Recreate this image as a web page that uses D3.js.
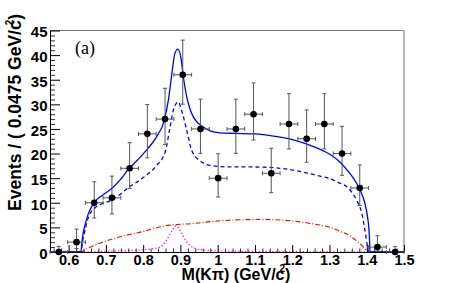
<!DOCTYPE html>
<html><head><meta charset="utf-8">
<script src="https://cdn.jsdelivr.net/npm/d3@7"></script>
<style>
html,body{margin:0;padding:0;background:#fff;}
svg{display:block;}
</style></head>
<body>
<svg id="c" width="454" height="283"></svg>
<script>
// ---- data ----
const binCenters = [0.57375,0.62125,0.66875,0.71625,0.76375,0.81125,0.85875,0.90625,0.95375,1.00125,
                    1.04875,1.09625,1.14375,1.19125,1.23875,1.28625,1.33375,1.38125,1.42875,1.47625];
const binHalfWidth = 0.02375;
const counts  = [0,2,10,11,17,24,27,36,25,15,25,28,16,26,23,26,20,13,1,0];
const errLow  = [0,1.29,3.10,3.26,4.08,4.86,5.16,5.97,4.96,3.83,4.96,5.26,3.95,5.06,4.76,5.06,4.43,3.55,0.83,0];
const errHigh = [1.15,2.64,4.26,4.41,5.20,5.96,6.26,7.05,6.06,4.95,6.06,6.35,5.08,6.16,5.86,6.16,5.54,4.69,2.30,1.15];

const totalFit = [[0.55,0],[0.633,0],[0.636,2.2],[0.639,3.8],[0.645,5.8],[0.653,7.8],[0.668,10],[0.69,11.5],
  [0.714,12.8],[0.74,14.8],[0.76,16.8],[0.785,18.7],[0.809,20.7],[0.835,23.3],[0.856,26.6],[0.868,31],
  [0.877,36.2],[0.885,40.3],[0.893,41.2],[0.901,39.6],[0.908,35.5],[0.917,31.5],[0.925,29.2],[0.935,27.4],
  [0.947,26.2],[0.961,25.4],[0.98,24.6],[1.006,24.2],[1.046,24.1],[1.1,24],[1.154,23.5],[1.208,22.7],
  [1.261,21.3],[1.306,19.6],[1.328,18.3],[1.35,16.4],[1.364,15.0],[1.382,12.6],[1.395,9.9],[1.402,7.2],
  [1.406,4.5],[1.408,1.5],[1.4085,0],[1.5,0]];
const dashedFit = [[0.55,0],[0.633,0],[0.637,2.0],[0.642,3.8],[0.653,7.0],[0.671,9.0],[0.69,9.8],[0.714,10.5],
  [0.74,11.8],[0.76,13.1],[0.785,14.3],[0.809,15.6],[0.835,17.5],[0.859,20.3],[0.872,25.3],[0.881,28.8],
  [0.894,30.5],[0.903,28.8],[0.917,24.7],[0.93,20.7],[0.94,19.4],[0.953,18.5],[0.979,17.6],[1.024,17.3],
  [1.06,17.3],[1.136,17.2],[1.225,16.3],[1.275,15.4],[1.297,15.0],[1.319,14.3],[1.355,12.6],[1.373,10.5],
  [1.387,7.8],[1.395,4.5],[1.402,1.1],[1.405,0],[1.5,0]];
const bkgFit = [[0.55,0],[0.633,0],[0.645,0.5],[0.671,1.4],[0.724,2.8],[0.796,4.1],[0.859,5.3],[0.935,5.8],
  [1.0,6.3],[1.06,6.55],[1.122,6.6],[1.194,6.35],[1.257,5.7],[1.31,4.8],[1.328,4.2],[1.355,3.3],[1.364,2.8],
  [1.386,1.4],[1.4,0.3],[1.405,0],[1.5,0]];
const kstarFit = [[0.55,0],[0.633,0],[0.70,0.15],[0.78,0.35],[0.82,0.6],[0.845,1.0],[0.863,2.4],[0.875,4.0],
  [0.888,5.3],[0.90,4.3],[0.908,3.1],[0.926,1.3],[0.953,0.5],[1.0,0.25],[1.1,0.12],[1.2,0.06],[1.3,0.03],
  [1.405,0],[1.5,0]];

const xMajor = [0.6,0.7,0.8,0.9,1.0,1.1,1.2,1.3,1.4,1.5];
const xTickLabels = ["0.6","0.7","0.8","0.9","1","1.1","1.2","1.3","1.4","1.5"];
const xMinor = [0.56,0.58,0.62,0.64,0.66,0.68,0.72,0.74,0.76,0.78,0.82,0.84,0.86,0.88,0.92,0.94,0.96,0.98,
  1.02,1.04,1.06,1.08,1.12,1.14,1.16,1.18,1.22,1.24,1.26,1.28,1.32,1.34,1.36,1.38,1.42,1.44,1.46,1.48];
const yMajor = [0,5,10,15,20,25,30,35,40,45];
const yMinor = [1,2,3,4,6,7,8,9,11,12,13,14,16,17,18,19,21,22,23,24,26,27,28,29,31,32,33,34,36,37,38,39,41,42,43,44];

// ---- layout ----
const svg = d3.select("#c");
const x = d3.scaleLinear().domain([0.55,1.5]).range([50,404]);
const y = d3.scaleLinear().domain([0,45]).range([252,30.5]);
const font = "'Liberation Sans', Arial, Helvetica, sans-serif";

svg.append("rect").attr("width",454).attr("height",283).attr("fill","#fff");

// frame top/right
svg.append("line").attr("x1",x(0.55)).attr("x2",x(1.5)).attr("y1",y(45)).attr("y2",y(45))
  .attr("stroke","#7a7a7a").attr("stroke-width",1);
svg.append("line").attr("x1",x(1.5)).attr("x2",x(1.5)).attr("y1",y(45)).attr("y2",y(0))
  .attr("stroke","#a8a8a8").attr("stroke-width",1.6);

// curves
const line = d3.line().x(d=>x(d[0])).y(d=>y(d[1])).curve(d3.curveMonotoneX);
svg.append("path").datum(kstarFit).attr("d",line).attr("fill","none")
  .attr("stroke","#ff00ff").attr("stroke-width",1.3).attr("stroke-dasharray","1.2,2.2");
svg.append("path").datum(bkgFit).attr("d",line).attr("fill","none")
  .attr("stroke","#ff0000").attr("stroke-width",1.1).attr("stroke-dasharray","5,2,1,2");
svg.append("path").datum(dashedFit).attr("d",line).attr("fill","none")
  .attr("stroke","#0000ff").attr("stroke-width",1.3).attr("stroke-dasharray","4,3");
svg.append("path").datum(totalFit).attr("d",line).attr("fill","none")
  .attr("stroke","#0000ff").attr("stroke-width",1.3);

// axes
function styleAxis(g){
  g.selectAll("text").attr("font-family",font).attr("font-weight","bold").attr("font-size",15).attr("fill","#000");
  g.selectAll("line").attr("stroke","#000");
  g.select(".domain").attr("stroke","#000");
}
const gxMinor = svg.append("g").attr("transform",`translate(0,${y(0)})`)
  .call(d3.axisBottom(x).tickValues(xMinor).tickSize(-3.5).tickFormat(""));
gxMinor.select(".domain").remove();
gxMinor.selectAll("line").attr("stroke","#333");
const gx = svg.append("g").attr("transform",`translate(0,${y(0)})`)
  .call(d3.axisBottom(x).tickValues(xMajor).tickSize(-7).tickSizeOuter(0).tickPadding(3)
    .tickFormat((d,i)=>xTickLabels[i]));
styleAxis(gx);
gx.selectAll("text").attr("font-size",14.5);

const gyMinor = svg.append("g").attr("transform",`translate(${x(0.55)},0)`)
  .call(d3.axisLeft(y).tickValues(yMinor).tickSize(-5).tickFormat(""));
gyMinor.select(".domain").remove();
gyMinor.selectAll("line").attr("stroke","#333");
const gy = svg.append("g").attr("transform",`translate(${x(0.55)},0)`)
  .call(d3.axisLeft(y).tickValues(yMajor).tickSize(-10).tickSizeOuter(0).tickPadding(2.5)
    .tickFormat(d3.format("d")));
styleAxis(gy);
gy.selectAll("text").attr("dy","0.42em");

// data points with error bars
const pts = svg.append("g");
const cap = 2;
binCenters.forEach((c,i)=>{
  const cx = x(c), cy = y(counts[i]);
  const xl = x(c-binHalfWidth), xr = x(c+binHalfWidth);
  const yt = y(counts[i]+errHigh[i]), yb = y(counts[i]-errLow[i]);
  const g = pts.append("g").attr("stroke","#555").attr("stroke-width",1);
  g.append("line").attr("x1",cx).attr("x2",cx).attr("y1",yt).attr("y2",yb);
  g.append("line").attr("x1",cx-cap).attr("x2",cx+cap).attr("y1",yt).attr("y2",yt);
  if (errLow[i]>0) g.append("line").attr("x1",cx-cap).attr("x2",cx+cap).attr("y1",yb).attr("y2",yb);
  g.append("line").attr("x1",xl).attr("x2",xr).attr("y1",cy).attr("y2",cy);
  g.append("line").attr("x1",xl).attr("x2",xl).attr("y1",cy-cap).attr("y2",cy+cap);
  g.append("line").attr("x1",xr).attr("x2",xr).attr("y1",cy-cap).attr("y2",cy+cap);
  pts.append("circle").attr("cx",cx).attr("cy",cy).attr("r",3.3).attr("fill","#000");
});

// titles
const xt = svg.append("text").attr("x",236).attr("y",279.5).attr("text-anchor","middle")
  .attr("font-family",font).attr("font-weight","bold").attr("font-size",16).attr("fill","#000");
xt.append("tspan").text("M(K\u03C0) (GeV/c");
xt.append("tspan").attr("font-size",10).attr("dx",-5).attr("dy",-8).text("2");
xt.append("tspan").attr("dy",8).text(")");

const yt = svg.append("text").attr("transform","translate(21,211) rotate(-90)").attr("text-anchor","start")
  .attr("font-family",font).attr("font-weight","bold").attr("font-size",17.5).attr("fill","#000");
yt.append("tspan").text("Events / ( 0.0475 GeV/c");
yt.append("tspan").attr("font-size",10).attr("dx",-5).attr("dy",-8).text("2");
yt.append("tspan").attr("dy",8).text(")");

svg.append("text").attr("x",75).attr("y",54).attr("font-family","'Liberation Serif', 'Times New Roman', serif")
  .attr("font-size",18).attr("fill","#000").text("(a)");
</script>
</body></html>
